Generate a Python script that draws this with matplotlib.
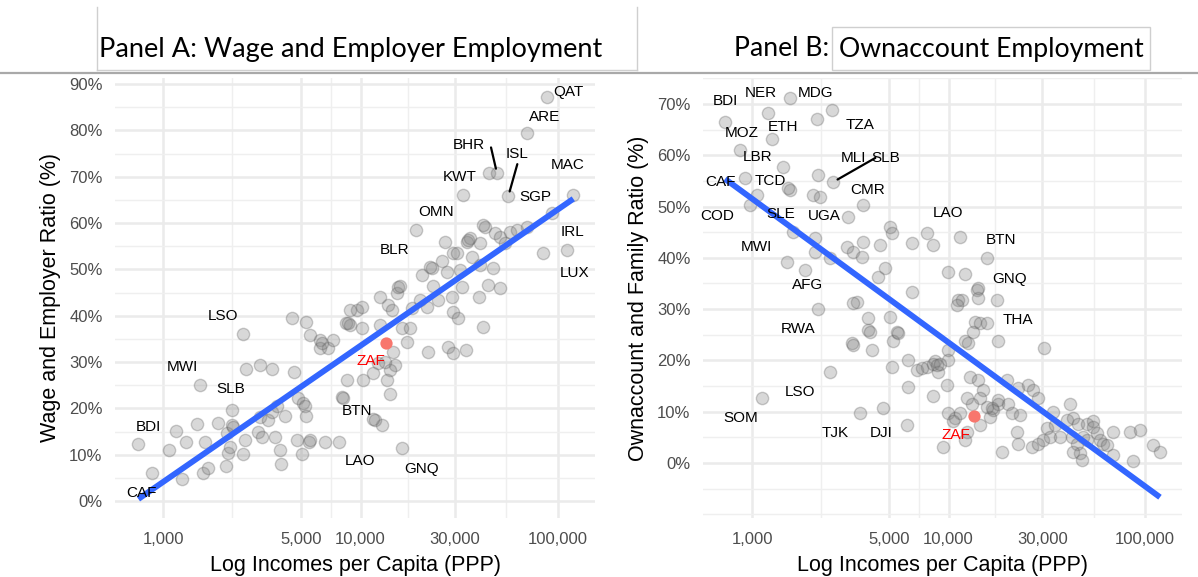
import numpy as np
import matplotlib
matplotlib.use("Agg")
import matplotlib.pyplot as plt
from matplotlib.ticker import FixedLocator, NullFormatter, FuncFormatter
from matplotlib.patches import Rectangle

plt.rcParams['font.family'] = ['Liberation Sans', 'DejaVu Sans']

# ---------------- data ----------------
income_breaks = [1000, 5000, 10000, 30000, 100000]

# Panel A: wage and employer employment ratio (%) vs income per capita (PPP)
a_income = [1076, 1163, 1308, 1244, 1481, 1632, 1600, 1696, 1905, 2101, 2084, 2141,
            2184, 2227, 2270, 2632, 3098, 3551, 2551, 2602, 3037, 3160, 3098, 3413,
            3551, 3690, 3764, 3912, 3944, 4147, 4483, 4606, 4843, 4786, 5074, 5133,
            5236, 5297, 5297, 5506, 5550, 6236, 6236, 6609, 6871, 7282, 8034, 8513,
            8445, 8847, 9568, 10260, 10140, 12806, 12555, 6361, 8673, 8847, 10140,
            12555, 13827, 14387, 15252, 15539, 16166, 17806, 18162, 17137, 14659,
            14952, 14105, 13307, 12310, 11610, 13572, 14105, 11842, 8185, 20410,
            22940, 23370, 20010, 21630, 24770, 25770, 27330, 26780, 29510, 28960,
            29510, 31270, 31900, 32760, 34490, 36560, 35850, 40290, 42700, 40290,
            39960, 41870, 27840, 29510, 34100, 22030, 44370, 47020, 47970, 50850,
            50850, 53890, 57150, 61790, 69420, 41870, 22490, 30690, 35150, 44730, 5550]
a_wage = [10.9, 15.1, 12.8, 4.7, 16.6, 12.8, 6.0, 7.1, 16.8, 14.6, 7.6, 10.3,
          11.7, 16.4, 16.0, 28.4, 29.4, 28.4, 10.1, 13.2, 15.0, 13.9, 18.2, 17.5,
          19.3, 13.9, 20.4, 11.0, 7.9, 18.3, 39.4, 27.9, 22.2, 13.2, 10.1, 21.1,
          20.4, 18.3, 38.7, 12.8, 35.8, 34.8, 33.0, 12.8, 33.0, 34.8, 22.5, 26.1,
          38.5, 38.0, 41.2, 26.1, 37.3, 16.4, 38.0, 34.0, 38.4, 41.2, 41.9,
          44.1, 42.3, 41.2, 44.8, 46.1, 37.3, 37.3, 41.6, 34.4, 32.2,
          29.4, 28.3, 30.1, 29.7, 27.6, 26.1, 23.2, 17.5, 22.2, 48.8,
          50.2, 46.3, 43.4, 41.9, 43.4, 51.7, 49.5, 56.0, 53.5, 44.1,
          40.9, 39.4, 49.9, 46.1, 56.0, 52.7, 56.7, 55.6, 59.2, 50.9,
          44.1, 37.6, 33.3, 31.9, 32.6, 32.2, 46.6, 50.2, 57.8, 45.9,
          57.0, 55.6, 58.1, 58.5, 59.2, 59.6, 50.6, 53.5, 56.3, 70.7, 13.2]

a_codes = ["QAT", "ARE", "BHR", "ISL", "MAC", "KWT", "SGP", "OMN", "IRL", "LUX",
           "BLR", "LSO", "ZAF", "MWI", "SLB", "BTN", "BDI", "LAO", "GNQ", "CAF"]
a_code_income = [87680, 69420, 49100, 56020, 119500, 33150, 92910, 19100, 84260, 110700,
                 15850, 2551, 13500, 1539, 2227, 11610, 750, 7812, 16170, 877]
a_code_wage = [87.3, 79.5, 70.7, 65.8, 66.0, 66.0, 62.1, 58.6, 53.5, 54.2,
               46.3, 36.0, 34.0, 25.0, 19.6, 17.8, 12.3, 12.8, 11.4, 6.0]

# Panel B: own-account and family worker ratio (%) vs income per capita (PPP)
b_income = [1443, 1057, 2051, 2218, 2093, 2093, 2494, 3033, 3278, 3685, 3616, 4481,
            5039, 5140, 6497, 7746, 8369, 4753, 4393, 9977, 12130, 3411, 6497, 11220,
            1561, 13920, 14180, 11680, 11010, 3907, 5039, 3907, 5449, 5237, 3217, 4066,
            13640, 14460, 13370, 12130, 12610, 17920, 9977, 5140, 6244, 6890, 7746,
            8538, 8875, 9977, 9790, 12870, 14180, 15040, 14460, 13130, 12380, 6244,
            8369, 6129, 9977, 10790, 11440, 14460, 16260, 16900, 17920, 9409, 18650,
            3278, 3985, 5553, 3255, 7304, 8369, 8710, 10580, 14180, 30620, 9050,
            19780, 22660, 25470, 27020, 28640, 17920, 20150, 20970, 23110, 16590,
            15650, 12380, 12130, 22240, 22660, 26510, 28640, 30370, 31600, 34830,
            34140, 41520, 39960, 43160, 45770, 50510, 54580, 54580, 56790, 59020,
            61370, 63850, 48530, 50510, 32860, 36940, 42360, 44920, 46690, 43160,
            47640, 69000, 83900, 94330, 69000, 87200, 110200, 119200]
b_own = [57.8, 52.3, 52.3, 51.9, 43.8, 41.2, 39.9, 42.2, 41.2, 43.1, 40.2, 42.5,
         46.1, 44.8, 42.8, 44.8, 42.5, 38.0, 36.3, 37.3, 36.8, 31.4, 33.4, 31.8,
         53.2, 33.7, 32.1, 31.8, 30.8, 28.2, 28.5, 25.9, 25.6, 23.7, 23.3, 22.0,
         27.5, 27.2, 25.6, 23.7, 23.3, 23.7, 22.0, 18.8, 20.1, 18.1, 18.8,
         19.8, 17.8, 20.1, 15.2, 16.8, 16.2, 14.2, 12.6, 11.6, 12.6, 14.9,
         13.1, 7.4, 9.7, 8.7, 9.7, 7.4, 9.0, 10.3, 11.6, 3.2, 2.2,
         31.1, 25.6, 25.4, 23.0, 18.5, 19.4, 19.1, 8.1, 34.1, 22.4, 19.4,
         16.2, 14.6, 15.2, 14.2, 12.6, 12.3, 11.6, 9.7, 9.4, 10.7,
         11.0, 6.1, 4.5, 6.1, 3.8, 3.2, 3.8, 4.5, 6.8, 7.4,
         10.0, 11.6, 8.4, 8.7, 7.7, 7.7, 8.1, 7.1, 5.8, 4.5,
         3.8, 3.5, 5.1, 4.5, 5.1, 5.1, 5.1, 3.8, 1.9, 2.2,
         0.6, 6.1, 6.1, 6.4, 1.6, 0.3, 3.5, 2.2]

b_codes = ["BDI", "NER", "MDG", "MOZ", "ETH", "TZA", "LBR", "MLI", "SLB", "CAF",
           "TCD", "CMR", "COD", "SLE", "UGA", "LAO", "BTN", "MWI", "GNQ", "AFG",
           "THA", "RWA", "LSO", "SOM", "TJK", "DJI", "ZAF"]
b_code_income = [729, 1211, 1561, 1260, 2133, 2545, 869, 2175, 2593, 921,
                 1530, 3685, 977, 1623, 3090, 11440, 15650, 1502, 17600, 1861,
                 15650, 2175, 2494, 1121, 3544, 4659, 13500]
b_code_own = [66.5, 68.3, 71.1, 63.1, 67.0, 68.8, 61.0, 56.2, 54.8, 55.6,
              53.6, 50.3, 50.3, 45.0, 48.0, 44.1, 39.9, 39.2, 31.8, 37.6,
              27.2, 30.0, 17.8, 12.6, 9.7, 10.7, 9.2]

# ---------------- label placement (pixel offsets from each point) ----------------
a_offsets = {"QAT": (22, 5), "ARE": (18, 16), "BHR": (-28, 28), "ISL": (9, 42),
             "MAC": (-6, 30), "KWT": (-4, 18), "SGP": (-16, 16), "OMN": (20, 18),
             "IRL": (29, 21), "LUX": (8, -23), "BLR": (-5, 36), "LSO": (-20, 18),
             "ZAF": (-15, -18), "MWI": (-18, 18), "SLB": (-1, 21), "BTN": (-16, 8),
             "BDI": (10, 17), "LAO": (21, -19), "GNQ": (20, -21), "CAF": (-10, -20)}
a_leaders = {"BHR": (-6, 26), "ISL": (9, 32)}

b_offsets = {"BDI": (0, 21), "NER": (-8, 20), "MDG": (25, 5), "MOZ": (-30, 6),
             "ETH": (-34, -8), "TZA": (28, -15), "LBR": (18, -7), "MLI": (35, 17),
             "SLB": (52, 24), "CAF": (-25, -4), "TCD": (-18, 7), "CMR": (4, 15),
             "COD": (-33, -11), "SLE": (-13, 18), "UGA": (-24, 1), "LAO": (-12, 24),
             "BTN": (14, 18), "MWI": (-30, 15), "GNQ": (13, 21), "AFG": (3, -15),
             "THA": (31, 3), "RWA": (-20, -20), "LSO": (-30, -20), "SOM": (-21, -20),
             "TJK": (-25, -20), "DJI": (-2, -25), "ZAF": (-18, -19)}
b_leaders = {"SLB": (42, 24)}

W, H = 1198, 577
fig = plt.figure(figsize=(W / 100, H / 100), dpi=100)
fig.patch.set_facecolor('white')


def px_axes(left, top, right, bottom):
    return fig.add_axes([left / W, 1 - bottom / H, (right - left) / W, (bottom - top) / H])


axA = px_axes(115, 78, 595, 518)
axB = px_axes(703, 78, 1182, 518)

GREY30 = '#4D4D4D'
LINE_BLUE = '#3366FF'
HIGHLIGHT = '#F8766D'


def style(ax, xlim, ylim, yticks):
    ax.set_xscale('log')
    ax.set_xlim(*xlim)
    ax.set_ylim(*ylim)
    b = np.array(income_breaks, dtype=float)
    ext = np.concatenate([[b[0] ** 2 / b[1]], b, [b[-1] ** 2 / b[-2]]])
    minor = np.sqrt(ext[:-1] * ext[1:])
    ax.xaxis.set_major_locator(FixedLocator(income_breaks))
    ax.xaxis.set_major_formatter(FuncFormatter(lambda v, p: f"{v:,.0f}"))
    ax.xaxis.set_minor_locator(FixedLocator(minor))
    ax.xaxis.set_minor_formatter(NullFormatter())
    step = yticks[1] - yticks[0]
    ymin = np.concatenate([[yticks[0] - step], yticks, [yticks[-1] + step]])
    yminor = np.concatenate([ymin, (ymin[:-1] + ymin[1:]) / 2])
    ax.set_yticks(yticks)
    ax.yaxis.set_minor_locator(FixedLocator(yminor))
    ax.yaxis.set_minor_formatter(NullFormatter())
    ax.yaxis.set_major_formatter(FuncFormatter(lambda v, p: f"{v:.0f}%"))
    ax.grid(which='major', color='#EBEBEB', lw=1.8)
    ax.grid(which='minor', color='#EFEFEF', lw=1.0)
    ax.tick_params(which='both', length=0, labelsize=12, labelcolor=GREY30)
    ax.tick_params(axis='y', pad=9)
    ax.tick_params(axis='x', pad=10)
    for s in ax.spines.values():
        s.set_visible(False)
    ax.set_axisbelow(True)
    ax.set_facecolor('white')


def draw_panel(ax, inc, val, codes, cinc, cval, offsets, leaders, ylabel):
    all_inc = np.array(list(inc) + list(cinc), dtype=float)
    all_val = np.array(list(val) + list(cval), dtype=float)
    not_zaf = [c != "ZAF" for c in codes]
    pts_inc = np.concatenate([inc, np.array(cinc)[not_zaf]])
    pts_val = np.concatenate([val, np.array(cval)[not_zaf]])
    ax.scatter(pts_inc, pts_val, s=78, c=[(0.5, 0.5, 0.5, 0.3)],
               edgecolors=[(0.35, 0.35, 0.35, 0.3)], linewidths=1.0, zorder=2)
    # linear fit on log income
    lx = np.log10(all_inc)
    k, c0 = np.polyfit(lx, all_val, 1)
    xs = np.array([lx.min(), lx.max()])
    ax.plot(10 ** xs, k * xs + c0, color=LINE_BLUE, lw=4.2, solid_capstyle='butt', zorder=3)
    zi = codes.index("ZAF")
    ax.scatter([cinc[zi]], [cval[zi]], s=78, c=HIGHLIGHT, linewidths=0, zorder=4)
    for code, x, y in zip(codes, cinc, cval):
        dx, dy = offsets[code]
        ax.annotate(code, (x, y), xytext=(dx, dy), textcoords='offset pixels',
                    ha='center', va='center', fontsize=11,
                    color='red' if code == "ZAF" else 'black', zorder=6)
        if code in leaders:
            lxo, lyo = leaders[code]
            ax.annotate("", (x, y), xytext=(lxo, lyo), textcoords='offset pixels',
                        arrowprops=dict(arrowstyle='-', color='black', lw=1.6,
                                        shrinkA=0, shrinkB=3.5), zorder=5)
    ax.set_xlabel("Log Incomes per Capita (PPP)", fontsize=15.5, color='black', labelpad=6)
    ax.set_ylabel(ylabel, fontsize=15.5, color='black', labelpad=6)


style(axA, (571, 153900), (-3.67, 91.3), np.arange(0, 91, 10))
style(axB, (563, 154300), (-10.72, 75.06), np.arange(0, 71, 10))
draw_panel(axA, a_income, a_wage, a_codes, a_code_income, a_code_wage,
           a_offsets, a_leaders, "Wage and Employer Ratio (%)")
draw_panel(axB, b_income, b_own, b_codes, b_code_income, b_code_own,
           b_offsets, b_leaders, "Ownaccount and Family Ratio (%)")

# ---------------- header strip ----------------
ov = fig.add_axes([0, 0, 1, 1], zorder=10)
ov.set_xlim(0, W)
ov.set_ylim(H, 0)
ov.axis('off')
ov.patch.set_alpha(0)
ov.plot([0, W], [73, 73], color='#A9A9A9', lw=1.6)
box_col = '#CFCFCF'
ov.plot([97, 97], [7, 70], color=box_col, lw=1)
ov.plot([637, 637], [7, 70], color=box_col, lw=1)
ov.plot([97, 637], [70, 70], color=box_col, lw=1)
ov.add_patch(Rectangle((832, 27), 318, 43, fill=False, edgecolor=box_col, lw=1))
title_font = ['Lato', 'DejaVu Sans']
ov.text(351, 49, "Panel A: Wage and Employer Employment", ha='center', va='center',
        fontsize=19.5, family=title_font, color='black')
ov.text(829, 49, "Panel B:", ha='right', va='center', fontsize=19.2, family=title_font,
        color='black')
ov.text(991, 49, "Ownaccount Employment", ha='center', va='center', fontsize=19.2,
        family=title_font, color='black')

fig.savefig("out.png", dpi=100, facecolor='white')
